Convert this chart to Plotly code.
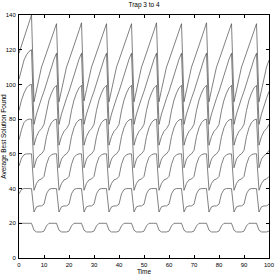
import plotly.graph_objects as go

time = list(range(0, 101))

line_20 = [20, 20, 20, 20, 20, 20,
           16, 15, 15, 15, 15.5, 18.5, 20, 20, 20, 20,
           16, 15, 15, 15, 15.5, 18.5, 20, 20, 20, 20,
           16, 15, 15, 15, 15.5, 18.5, 20, 20, 20, 20,
           16, 15, 15, 15, 15.5, 18.5, 20, 20, 20, 20,
           16, 15, 15, 15, 15.5, 18.5, 20, 20, 20, 20,
           16, 15, 15, 15, 15.5, 18.5, 20, 20, 20, 20,
           16, 15, 15, 15, 15.5, 18.5, 20, 20, 20, 20,
           16, 15, 15, 15, 15.5, 18.5, 20, 20, 20, 20,
           16, 15, 15, 15, 15.5, 18.5, 20, 20, 20, 20,
           16, 15, 15, 15, 15.5]

line_40 = [37, 39.5, 40, 40, 40, 40,
           26.5, 29.5, 30, 30, 31, 37, 39.5, 40, 40, 40,
           26.5, 29.5, 30, 30, 31, 37, 39.5, 40, 40, 40,
           26.5, 29.5, 30, 30, 31, 37, 39.5, 40, 40, 40,
           26.5, 29.5, 30, 30, 31, 37, 39.5, 40, 40, 40,
           26.5, 29.5, 30, 30, 31, 37, 39.5, 40, 40, 40,
           26.5, 29.5, 30, 30, 31, 37, 39.5, 40, 40, 40,
           26.5, 29.5, 30, 30, 31, 37, 39.5, 40, 40, 40,
           26.5, 29.5, 30, 30, 31, 37, 39.5, 40, 40, 40,
           26.5, 29.5, 30, 30, 31, 37, 39.5, 40, 40, 40,
           26.5, 29.5, 30, 30, 31]

line_60 = [53, 57.5, 59.5, 60, 60, 60,
           39, 43, 45, 45.5, 47, 54, 58, 59.5, 60, 60,
           39, 43, 45, 45.5, 47, 54, 58, 59.5, 60, 60,
           39, 43, 45, 45.5, 47, 54, 58, 59.5, 60, 60,
           39, 43, 45, 45.5, 47, 54, 58, 59.5, 60, 60,
           39, 43, 45, 45.5, 47, 54, 58, 59.5, 60, 60,
           39, 43, 45, 45.5, 47, 54, 58, 59.5, 60, 60,
           39, 43, 45, 45.5, 47, 54, 58, 59.5, 60, 60,
           39, 43, 45, 45.5, 47, 54, 58, 59.5, 60, 60,
           39, 43, 45, 45.5, 47, 54, 58, 59.5, 60, 60,
           39, 43, 45, 45.5, 47]

line_80 = [68, 74, 78, 79.5, 80, 80,
           52, 57, 59, 60, 62, 70, 75, 78, 79.5, 80,
           52, 57, 59, 60, 62, 70, 75, 78, 79.5, 80,
           52, 57, 59, 60, 62, 70, 75, 78, 79.5, 80,
           52, 57, 59, 60, 62, 70, 75, 78, 79.5, 80,
           52, 57, 59, 60, 62, 70, 75, 78, 79.5, 80,
           52, 57, 59, 60, 62, 70, 75, 78, 79.5, 80,
           52, 57, 59, 60, 62, 70, 75, 78, 79.5, 80,
           52, 57, 59, 60, 62, 70, 75, 78, 79.5, 80,
           52, 57, 59, 60, 62, 70, 75, 78, 79.5, 80,
           52, 57, 59, 60, 62]

line_100 = [85, 91, 95, 98, 99.5, 100,
            65, 70, 73, 74.5, 77, 85, 91, 95, 98, 99.5,
            65, 70, 73, 74.5, 77, 85, 91, 95, 98, 99.5,
            65, 70, 73, 74.5, 77, 85, 91, 95, 98, 99.5,
            65, 70, 73, 74.5, 77, 85, 91, 95, 98, 99.5,
            65, 70, 73, 74.5, 77, 85, 91, 95, 98, 99.5,
            65, 70, 73, 74.5, 77, 85, 91, 95, 98, 99.5,
            65, 70, 73, 74.5, 77, 85, 91, 95, 98, 99.5,
            65, 70, 73, 74.5, 77, 85, 91, 95, 98, 99.5,
            65, 70, 73, 74.5, 77, 85, 91, 95, 98, 99.5,
            65, 70, 73, 74.5, 77]

line_120 = [103, 109, 114, 117, 119, 120,
            77, 83, 88, 92, 96, 101, 106, 110.5, 114.5, 118,
            77, 83, 88, 92, 96, 101, 106, 110.5, 114.5, 118,
            77, 83, 88, 92, 96, 101, 106, 110.5, 114.5, 118,
            77, 83, 88, 92, 96, 101, 106, 110.5, 114.5, 118,
            77, 83, 88, 92, 96, 101, 106, 110.5, 114.5, 118,
            77, 83, 88, 92, 96, 101, 106, 110.5, 114.5, 118,
            77, 83, 88, 92, 96, 101, 106, 110.5, 114.5, 118,
            77, 83, 88, 92, 96, 101, 106, 110.5, 114.5, 118,
            77, 83, 88, 92, 96, 101, 106, 110.5, 114.5, 118,
            77, 83, 88, 92, 96]

line_140 = [118, 122.5, 127, 131.5, 136, 140,
            90, 97, 104, 110, 114, 118, 122, 126.5, 131, 135,
            90, 97, 104, 110, 114, 118, 122, 126.5, 131, 135.5,
            90.5, 97, 104, 110, 114, 118, 122, 126.5, 131, 135,
            90, 97, 104, 110, 114, 118, 122, 126.5, 131, 135,
            90, 97, 104, 110, 114, 118, 122, 126.5, 131, 135.5,
            90, 97, 104, 110, 114, 118, 122, 126.5, 131, 135,
            90, 97, 104, 110, 114, 118, 122, 126.5, 131, 135.5,
            90, 97, 104, 110, 114, 118, 122, 126.5, 131, 135,
            90, 97, 104, 110, 114, 118, 122, 126.5, 131, 135,
            90, 97, 104, 110, 114]

series = [line_20, line_40, line_60, line_80, line_100, line_120, line_140]

x_ticks = [0, 10, 20, 30, 40, 50, 60, 70, 80, 90, 100]
y_ticks = [0, 20, 40, 60, 80, 100, 120, 140]

fig = go.Figure()
for s in series:
    fig.add_trace(go.Scatter(x=time, y=s, mode="lines",
                             line=dict(color="#4a4a4a", width=0.7),
                             showlegend=False, hoverinfo="skip"))

font = "Liberation Sans, Arial, sans-serif"
axis_common = dict(showline=True, linecolor="black", linewidth=1, mirror="ticks",
                   ticks="inside", ticklen=3, tickcolor="black", showgrid=False,
                   zeroline=False, automargin=False,
                   tickfont=dict(size=6, family=font, color="black"))

fig.update_layout(
    width=277, height=277,
    margin=dict(l=19, r=8, t=15, b=19),
    paper_bgcolor="white", plot_bgcolor="white",
    hovermode=False,
    title=dict(text="Trap 3 to 4", x=0.52, xanchor="center", y=0.99, yanchor="top",
               font=dict(size=6.5, family=font, color="black")),
    xaxis=dict(range=[0, 100], tickvals=x_ticks, ticklabelstandoff=1,
               title=dict(text="Time", font=dict(size=6.5, family=font, color="black"), standoff=1),
               **axis_common),
    yaxis=dict(range=[0, 140], tickvals=y_ticks, ticklabelstandoff=1,
               title=dict(text="Average Best Solution Found", font=dict(size=6.5, family=font, color="black"), standoff=1),
               **axis_common),
)

fig.write_html("out.html",
               config={"displayModeBar": False, "staticPlot": True},
               post_script="document.body.style.margin='0';document.body.style.overflow='hidden';")
